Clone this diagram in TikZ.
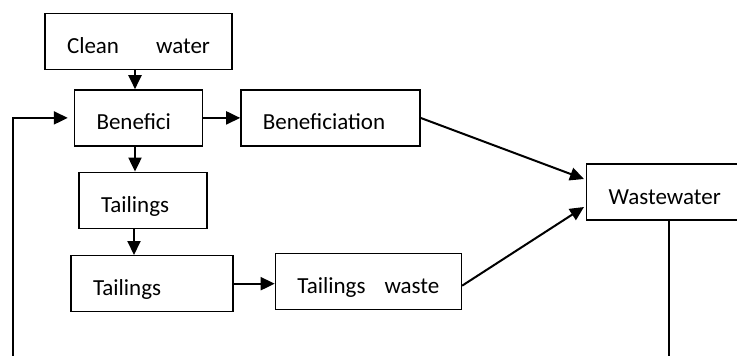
\documentclass[tikz,border=0pt]{standalone}
\usepackage{fontspec}
\setmainfont{Carlito}
\usepackage{tikz}
\usetikzlibrary{positioning,arrows.meta}

\begin{document}
\begin{tikzpicture}[
    x=1pt, y=-1pt,
    >={Triangle[length=14pt, width=13pt]},
    box/.style={draw, line width=1.4pt, minimum height=56pt, inner xsep=22pt,
                text height=28pt, text depth=4pt, align=left,
                font=\fontsize{23pt}{27pt}\selectfont},
    arrow/.style={->, line width=2pt},
    link/.style={line width=1.5pt},
]
    \clip[use as bounding box] (0,0) rectangle (737,356);

    % Water in
    \node[box, text width=143pt] (clean) at (138.5,41.5) {Clean\hfill water};
    \node[box, text width=84pt, below=19pt of clean] (benefici) {Benefici};
    \node[box, text width=135pt, right=37pt of benefici] (benefout) {Beneficiation};

    % Tailings path
    \node[box, text width=84pt, below=25pt of benefici, xshift=4.5pt] (tail1) {Tailings};
    \node[box, text width=118pt, below=26pt of tail1, xshift=9pt] (tail2) {Tailings};
    \node[box, text width=142pt, right=41pt of tail2, yshift=2.5pt] (tailwaste) {Tailings\hfill waste};

    % Wastewater
    \node[box, text width=116pt, anchor=west] (waste) at (586,192) {Wastewater};

    % Loose ends below the picture
    \coordinate (loopL) at (13,370);
    \coordinate (dropR) at (669,370);

    % Main flow
    \draw[arrow] ([xshift=-3.5pt]clean.south) -- ([xshift=-3.5pt]clean.south |- benefici.north);
    \draw[arrow] (benefici) -- (benefout);
    \draw[arrow] ([xshift=-3.5pt]benefici.south) -- ([xshift=-3.5pt]benefici.south |- tail1.north);
    \draw[arrow] ([xshift=-9pt]tail1.south) -- ([xshift=-9pt]tail1.south |- tail2.north);
    \draw[arrow] (tail2.east) -- (tail2.east -| tailwaste.west);

    % To wastewater
    \draw[arrow] (benefout.east) -- ([yshift=13pt, xshift=-2pt]waste.west);
    \draw[arrow] ([yshift=-4.5pt]tailwaste.east) -- ([yshift=-15pt, xshift=-2pt]waste.west);

    % Return loop
    \draw[link] (waste.south -| dropR) -- (dropR);
    \draw[arrow] (loopL) |- ([xshift=-6pt]benefici.west);

\end{tikzpicture}
\end{document}
